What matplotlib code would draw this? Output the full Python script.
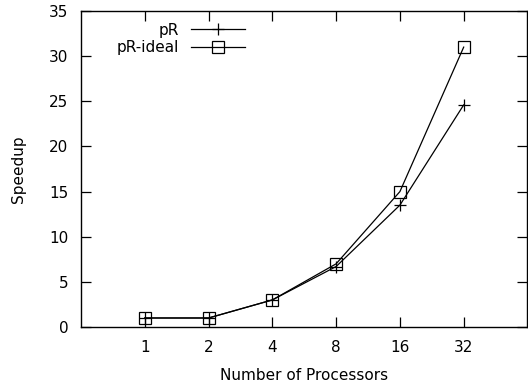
import matplotlib
matplotlib.use("Agg")
import matplotlib.pyplot as plt

procs = ["1", "2", "4", "8", "16", "32"]
pR = [1, 1, 3, 6.7, 13.5, 24.6]
pR_ideal = [1, 1, 3, 7, 15, 31]

plt.rcParams['font.family'] = ['DejaVu Sans']
plt.rcParams['font.size'] = 11

fig = plt.figure(figsize=(5.28, 3.85), dpi=100)
ax = fig.add_axes([0.1534, 0.1506, 0.8456, 0.8208])

x = list(range(1, len(procs) + 1))
ax.plot(x, pR, color='black', lw=0.9, marker='+', ms=9, mew=0.9, label='pR')
ax.plot(x, pR_ideal, color='black', lw=0.9, marker='s', ms=8.5, mew=0.9,
        mfc='none', label='pR-ideal')

ax.set_xlim(0, 7)
ax.set_ylim(0, 35)
ax.set_xticks(x)
ax.set_xticklabels(procs)
ax.set_yticks(range(0, 36, 5))
ax.tick_params(direction='in', length=7, width=0.9, top=True, right=True)
ax.tick_params(axis='y', pad=9)
ax.tick_params(axis='x', pad=9)
for s in ax.spines.values():
    s.set_linewidth(1.0)

ax.set_xlabel('Number of Processors', labelpad=10)
ax.set_ylabel('Speedup', labelpad=17)

leg = ax.legend(loc='upper left', frameon=False, markerfirst=False,
                handlelength=3.5, borderaxespad=0.1, labelspacing=0.15,
                handletextpad=0.8, bbox_to_anchor=(0.0, 0.987))
for t in leg.get_texts():
    t.set_ha('right')
leg._legend_box.align = 'right'
# anchor legend by its right edge of handles at x=243px
fig.canvas.draw()
bb = leg.get_window_extent()
target_right = 243 + 0.1 * 15.28 + 0.4 * 15.28  # include padding
dx = (target_right - bb.x1) / ax.get_window_extent().width
leg.set_bbox_to_anchor((dx, 0.987), transform=ax.transAxes)

fig.savefig('out.png', dpi=100)
